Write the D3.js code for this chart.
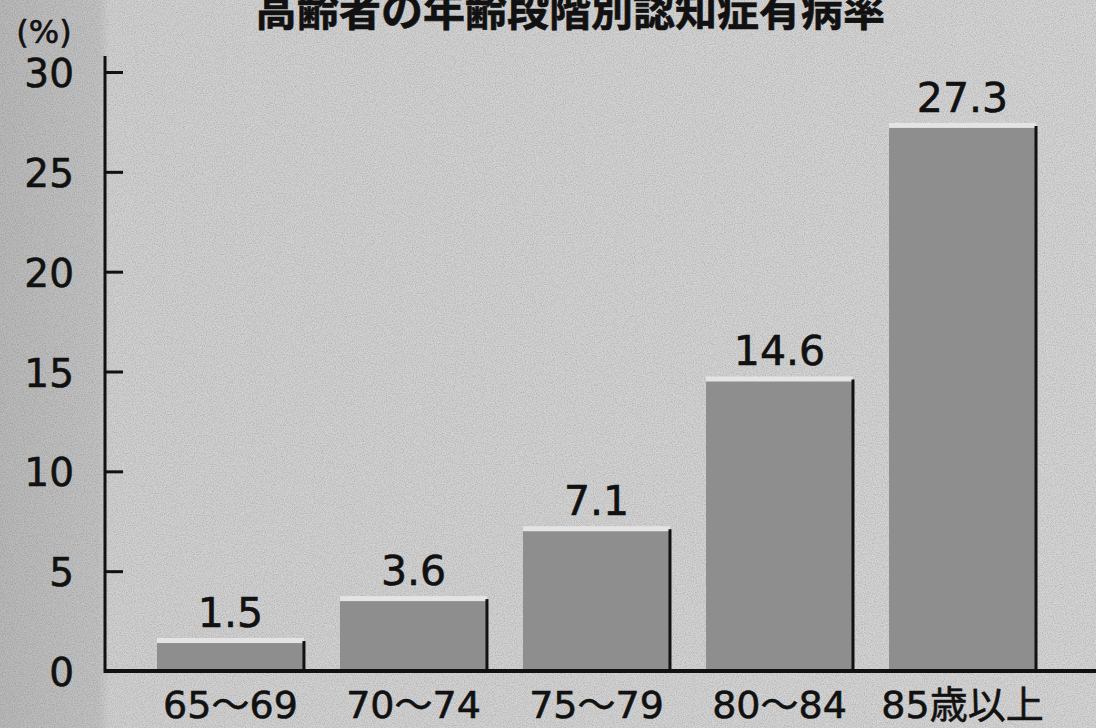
<!DOCTYPE html>
<html>
<head>
<meta charset="utf-8">
<script src="https://cdn.jsdelivr.net/npm/d3@7"></script>
<style>
  body { margin: 0; background: #c9c9c9; }
  text { font-family: "DejaVu Sans", "Noto Sans CJK JP", sans-serif; fill: #111; stroke: #111; stroke-width: 0.6px; }
</style>
</head>
<body>
<script>
// 高齢者の年齢段階別認知症有病率
var title = "高齢者の年齢段階別認知症有病率";
var ageGroups = ["65～69", "70～74", "75～79", "80～84", "85歳以上"];
var rates = [1.5, 3.6, 7.1, 14.6, 27.3];
var yTicks = [0, 5, 10, 15, 20, 25, 30];

var width = 1096, height = 728;
var axisX = 105, baseY = 671;

var svg = d3.select("body").append("svg")
  .attr("width", width)
  .attr("height", height);

// scanned paper look
var defs = svg.append("defs");
var f = defs.append("filter").attr("id", "grain").attr("x", 0).attr("y", 0).attr("width", "100%").attr("height", "100%");
f.append("feTurbulence").attr("type", "fractalNoise").attr("baseFrequency", 0.9).attr("numOctaves", 2).attr("seed", 3);
f.append("feColorMatrix").attr("type", "matrix")
  .attr("values", "0 0 0 0 0  0 0 0 0 0  0 0 0 0 0  0 0 0 -1.6 1.0");
f.append("feComposite").attr("in2", "SourceGraphic").attr("operator", "in");

var bg = defs.append("linearGradient").attr("id", "bg");
bg.append("stop").attr("offset", "0%").attr("stop-color", "#b9b9b9");
bg.append("stop").attr("offset", "9%").attr("stop-color", "#c2c2c2");
bg.append("stop").attr("offset", "10%").attr("stop-color", "#d0d0d0");
bg.append("stop").attr("offset", "100%").attr("stop-color", "#d4d4d4");

svg.append("rect").attr("width", width).attr("height", height).attr("fill", "url(#bg)");
svg.append("rect").attr("width", width).attr("height", height)
  .attr("fill", "#000").attr("opacity", 0.18).attr("filter", "url(#grain)");

var x = d3.scaleBand()
  .domain(ageGroups)
  .range([157, 1036])
  .paddingInner(0.197)
  .paddingOuter(0);

var y = d3.scaleLinear()
  .domain([0, 30])
  .range([baseY, 72]);

// title (cut off at top, as in the scan)
svg.append("text")
  .attr("x", 570)
  .attr("y", 26)
  .attr("text-anchor", "middle")
  .style("font-family", "'Noto Sans CJK JP', sans-serif")
  .style("font-weight", "bold")
  .style("font-size", "42px")
  .text(title);

svg.append("text")
  .attr("x", 44)
  .attr("y", 43)
  .attr("text-anchor", "middle")
  .style("font-size", "32px")
  .text("(%)");

// bars
var bars = svg.selectAll(".bar").data(rates).enter().append("g").attr("class", "bar");

bars.append("rect")
  .attr("x", function(d, i) { return x(ageGroups[i]); })
  .attr("y", function(d) { return y(d); })
  .attr("width", x.bandwidth())
  .attr("height", function(d) { return baseY - y(d); })
  .attr("fill", "#8e8e8e");

// light edge on top
bars.append("rect")
  .attr("x", function(d, i) { return x(ageGroups[i]); })
  .attr("y", function(d) { return y(d) - 3; })
  .attr("width", x.bandwidth())
  .attr("height", 5)
  .attr("fill", "#e4e4e4");

// dark right edge
bars.append("line")
  .attr("x1", function(d, i) { return x(ageGroups[i]) + x.bandwidth(); })
  .attr("x2", function(d, i) { return x(ageGroups[i]) + x.bandwidth(); })
  .attr("y1", function(d) { return y(d); })
  .attr("y2", baseY)
  .attr("stroke", "#111")
  .attr("stroke-width", 3);

bars.append("text")
  .attr("x", function(d, i) { return x(ageGroups[i]) + x.bandwidth() / 2; })
  .attr("y", function(d) { return y(d) - 14; })
  .attr("text-anchor", "middle")
  .style("font-size", "41px")
  .text(function(d) { return d.toFixed(1); });

// y axis, ticks point inward
var yAxis = svg.append("g")
  .attr("transform", "translate(" + axisX + ",0)")
  .call(d3.axisRight(y).tickValues(yTicks).tickSize(18).tickFormat(""));
yAxis.select(".domain").remove();
yAxis.selectAll(".tick line").attr("stroke", "#111").attr("stroke-width", 3);
yAxis.selectAll(".tick").filter(function(d) { return d === 0; }).remove();

svg.append("line")
  .attr("x1", axisX).attr("x2", axisX)
  .attr("y1", 56).attr("y2", baseY + 2)
  .attr("stroke", "#111").attr("stroke-width", 3);

svg.selectAll(".ylab").data(yTicks).enter().append("text")
  .attr("class", "ylab")
  .attr("x", 74)
  .attr("y", function(d) { return y(d) + 15; })
  .attr("text-anchor", "end")
  .style("font-size", "39px")
  .text(function(d) { return d; });

// baseline
svg.append("line")
  .attr("x1", axisX - 1).attr("x2", width)
  .attr("y1", baseY).attr("y2", baseY)
  .attr("stroke", "#111").attr("stroke-width", 4);

// category labels
svg.selectAll(".xlab").data(ageGroups).enter().append("text")
  .attr("class", "xlab")
  .attr("x", function(d) { return x(d) + x.bandwidth() / 2; })
  .attr("y", 718)
  .attr("text-anchor", "middle")
  .style("font-size", "38px")
  .text(function(d) { return d; });
</script>
</body>
</html>
